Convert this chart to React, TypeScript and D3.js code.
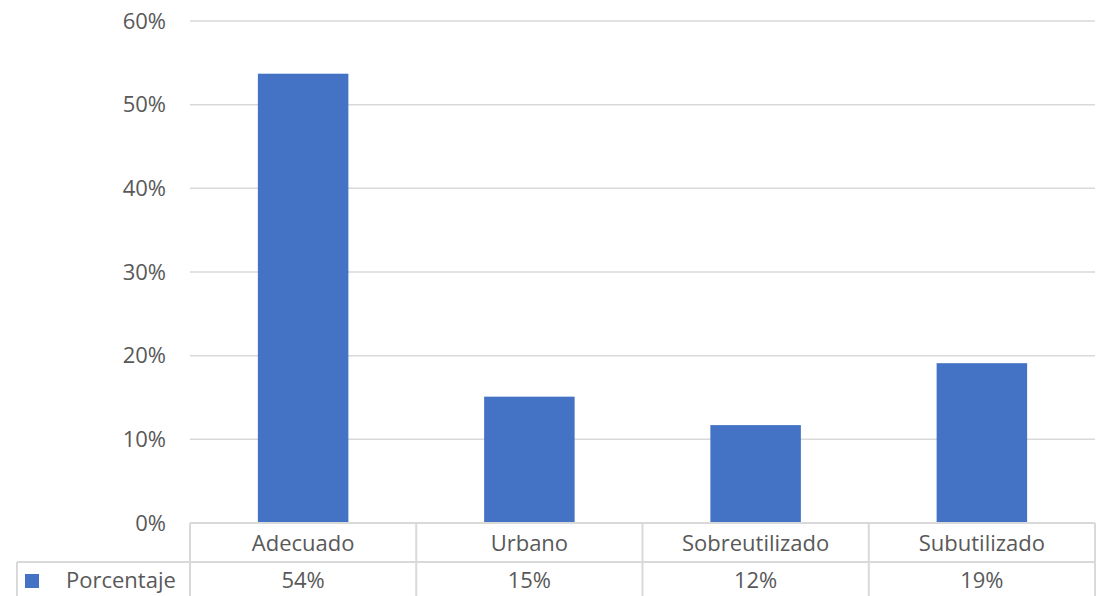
import React from "react";
import * as d3 from "d3";

const categories = ["Adecuado", "Urbano", "Sobreutilizado", "Subutilizado"];
const values = [0.537, 0.151, 0.117, 0.191];
const valueLabels = ["54%", "15%", "12%", "19%"];
const yTicks = [0, 0.1, 0.2, 0.3, 0.4, 0.5, 0.6];
const seriesName = "Porcentaje";

const W = 1097;
const H = 596;
const left = 190;
const right = 1095;
const top = 21;
const bottom = 523;
const rowMid = 562;
const tableLeft = 17;
const font = "'Open Sans', 'Segoe UI', sans-serif";
const textColor = "#595959";
const gridColor = "#d9d9d9";
const barColor = "#4472c4";
const fs = 22;

export default function App() {
  const x = d3.scaleBand<string>().domain(categories).range([left, right]).paddingInner(0.6).paddingOuter(0.3);
  const xCell = d3.scaleBand<string>().domain(categories).range([left, right]);
  const y = d3.scaleLinear().domain([0, 0.6]).range([bottom, top]);
  const fmt = d3.format(".0%");
  return (
    <svg width={W} height={H} style={{ position: "absolute", left: 0, top: 0 }} fontFamily={font}>
      <rect width={W} height={H} fill="#fff" />
      {yTicks.map((t) => (
        <g key={t}>
          {t > 0 && <line x1={left} x2={right} y1={y(t)} y2={y(t)} stroke={gridColor} strokeWidth={1.5} />}
          <text x={166} y={y(t)} dy="0.35em" textAnchor="end" fontSize={fs} fill={textColor}>{fmt(t)}</text>
        </g>
      ))}
      {categories.map((c, i) => (
        <rect key={c} x={x(c)} y={y(values[i])} width={x.bandwidth()} height={y(0) - y(values[i])} fill={barColor} />
      ))}
      {/* data table */}
      <line x1={left} x2={right} y1={bottom} y2={bottom} stroke={gridColor} strokeWidth={2} />
      <line x1={tableLeft} x2={right} y1={rowMid} y2={rowMid} stroke={gridColor} strokeWidth={2} />
      <line x1={tableLeft} x2={tableLeft} y1={rowMid} y2={H} stroke={gridColor} strokeWidth={2} />
      {categories.map((c) => (
        <line key={"v" + c} x1={xCell(c)} x2={xCell(c)} y1={bottom} y2={H} stroke={gridColor} strokeWidth={2} />
      ))}
      <line x1={right} x2={right} y1={bottom} y2={H} stroke={gridColor} strokeWidth={2} />
      {categories.map((c, i) => (
        <g key={"t" + c}>
          <text x={(xCell(c) as number) + xCell.bandwidth() / 2} y={543} dy="0.35em" textAnchor="middle" fontSize={fs} fill={textColor}>{c}</text>
          <text x={(xCell(c) as number) + xCell.bandwidth() / 2} y={580} dy="0.35em" textAnchor="middle" fontSize={fs} fill={textColor}>{valueLabels[i]}</text>
        </g>
      ))}
      <rect x={25} y={574} width={14} height={14} fill={barColor} />
      <text x={66} y={580} dy="0.35em" fontSize={fs} fill={textColor}>{seriesName}</text>
    </svg>
  );
}
